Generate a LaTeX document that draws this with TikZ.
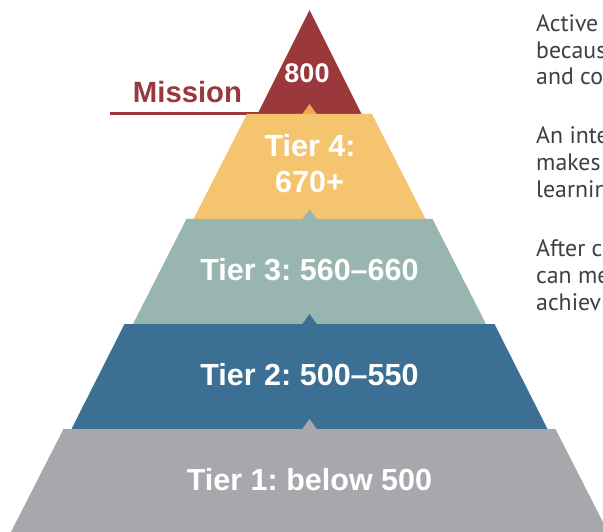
\documentclass[tikz,border=0pt]{standalone}
\usepackage{fontspec}
\setmainfont{Liberation Sans}
\newfontfamily\bodyfont{PT Sans}
\frenchspacing
\definecolor{missred}{HTML}{9A383B}
\definecolor{tabor}{HTML}{EDA94C}
\definecolor{tieryellow}{HTML}{F5C46E}
\definecolor{tierteal}{HTML}{98B6AF}
\definecolor{tierblue}{HTML}{3B7094}
\definecolor{tiergray}{HTML}{A7A8AC}
\definecolor{txtgray}{HTML}{3F3F3F}
\begin{document}
\begin{tikzpicture}[x=1pt,y=-1pt,
  tierlbl/.style={font=\bfseries\fontsize{30.5}{36}\selectfont\frenchspacing, text=white, inner sep=0pt, anchor=base},
  toplbl/.style={font=\bfseries\fontsize{27}{32}\selectfont, text=white, inner sep=0pt, anchor=base},
  missionlbl/.style={font=\bfseries\fontsize{29.3}{35}\selectfont, text=missred, inner sep=0pt, anchor=base},
  bodytxt/.style={font=\bodyfont\fontsize{23.8}{26.5}\selectfont, text=txtgray, inner sep=0pt, anchor=base west}
]
\useasboundingbox (0,0) rectangle (603,532);
\clip (0,0) rectangle (603,532);
% underline of Mission
\draw[missred, line width=3pt] (110,113.5) -- (259,113.5);
% top triangle
\fill[missred] (309.5,10) -- (361.5,114) -- (257.5,114) -- cycle;
% tier 4
\fill[tabor] (302,114.5) -- (309.5,104) -- (317,114.5) -- cycle;
\fill[tieryellow] (247,114) -- (372,114) -- (425.5,219) -- (193.5,219) -- cycle;
% tier 3
\fill[tierteal] (302,219.5) -- (309.5,209.5) -- (317,219.5) -- cycle;
\fill[tierteal] (186.5,219) -- (432.5,219) -- (486,324) -- (133,324) -- cycle;
% tier 2
\fill[tierblue] (302,324.5) -- (309.5,314) -- (317,324.5) -- cycle;
\fill[tierblue] (124.5,324) -- (494.5,324) -- (547.5,429) -- (71.5,429) -- cycle;
% tier 1
\fill[tiergray] (302,429.5) -- (309.5,419) -- (317,429.5) -- cycle;
\fill[tiergray] (63.5,429) -- (555.5,429) -- (608,532) -- (11,532) -- cycle;
% labels
\node[missionlbl] (mission) at (187.5,103) {Mission};
\node[toplbl] (top) at (307,83) {800};
\node[tierlbl] (t4a) at (310,157) {Tier 4:};
\node[tierlbl] (t4b) at (309.5,193) {670+};
\node[tierlbl] (t3) at (309.5,280) {Tier 3: 560–660};
\node[tierlbl] (t2) at (309.5,385) {Tier 2: 500–550};
\node[tierlbl] (t1) at (309.5,490) {Tier 1: below 500};
% side text
\node[bodytxt] (p1a) at (536,32) {Active};
\node[bodytxt] (p1b) at (536,58.5) {becaus};
\node[bodytxt] (p1c) at (536,85) {and co};
\node[bodytxt] (p2a) at (536,144) {An inte};
\node[bodytxt] (p2b) at (536,170.5) {makes};
\node[bodytxt] (p2c) at (536,197) {learnin};
\node[bodytxt] (p3a) at (536,257) {After c};
\node[bodytxt] (p3b) at (536,283.5) {can me};
\node[bodytxt] (p3c) at (536,310) {achiev};
\end{tikzpicture}
\end{document}
